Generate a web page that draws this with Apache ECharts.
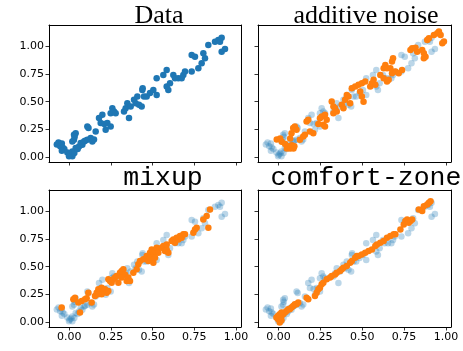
<!DOCTYPE html>
<html>
<head>
<meta charset="utf-8">
<script src="https://cdn.jsdelivr.net/npm/echarts@6/dist/echarts.min.js"></script>
<style>
  html, body { margin: 0; padding: 0; background: #fff; }
  #chart { width: 463px; height: 351px; }
</style>
</head>
<body>
<div id="chart"></div>
<script>
// original data (blue)
const dataPoints = [
  [-0.075,0.115],[-0.065,0.135],[-0.055,0.1],[-0.045,0.125],[-0.04,0.09],[-0.03,0.075],[-0.045,0.06],
  [-0.012,0.045],[0.002,0.024],[0.018,0.01],[-0.002,0.01],[0.01,0.035],[0.018,0.054],[0.03,0.04],
  [0.028,0.158],[0.018,0.143],[0.028,0.203],[0.038,0.218],[0.032,0.185],
  [0.038,0.084],[0.058,0.098],[0.068,0.129],[0.078,0.114],[0.088,0.143],[0.05,0.075],[0.095,0.15],
  [0.108,0.278],[0.115,0.265],[0.108,0.158],[0.128,0.174],[0.138,0.143],[0.158,0.233],[0.148,0.16],
  [0.178,0.353],[0.188,0.308],[0.198,0.382],[0.218,0.248],[0.228,0.308],[0.248,0.278],[0.248,0.397],
  [0.258,0.442],[0.268,0.412],[0.278,0.397],[0.21,0.3],
  [0.328,0.412],[0.338,0.442],[0.358,0.353],[0.348,0.487],[0.368,0.457],[0.388,0.517],[0.398,0.487],
  [0.408,0.546],[0.418,0.472],[0.438,0.606],[0.448,0.546],[0.434,0.457],[0.44,0.62],[0.464,0.546],
  [0.484,0.577],[0.504,0.606],[0.524,0.561],[0.524,0.711],[0.564,0.74],[0.584,0.636],[0.584,0.785],
  [0.594,0.606],[0.604,0.666],[0.624,0.74],[0.634,0.711],[0.654,0.711],[0.674,0.711],[0.684,0.74],
  [0.694,0.77],[0.734,0.77],[0.734,0.919],[0.754,0.904],[0.774,0.8],[0.794,0.845],[0.814,0.89],
  [0.804,0.935],[0.834,1.009],[0.874,1.038],[0.894,1.054],[0.914,1.074],[0.904,1.038],[0.914,0.949],
  [0.934,0.973]
];

// augmented points (orange)
const additivePoints = [
  [-0.01,0.16],[0.01,0.17],[0.02,0.14],[0.04,0.12],[0.05,0.08],[0.06,0.1],[0.07,0.08],[0.08,0.11],
  [0.09,0.08],[0.095,0.1],[0.07,0.17],[0.078,0.218],[0.088,0.263],[0.098,0.278],[0.108,0.248],
  [0.128,0.158],[0.148,0.188],[0.158,0.203],[0.168,0.322],[0.178,0.337],[0.188,0.233],[0.208,0.218],
  [0.238,0.3],[0.248,0.352],[0.258,0.367],[0.278,0.382],[0.288,0.337],[0.268,0.293],[0.278,0.278],
  [0.318,0.502],[0.328,0.457],[0.338,0.442],[0.328,0.397],[0.348,0.412],
  [0.378,0.472],[0.388,0.442],[0.398,0.517],[0.408,0.561],[0.418,0.546],[0.428,0.487],
  [0.438,0.621],[0.458,0.636],[0.478,0.651],[0.488,0.591],[0.498,0.546],[0.508,0.5],
  [0.498,0.666],[0.518,0.681],[0.548,0.636],[0.558,0.666],[0.578,0.651],[0.568,0.696],
  [0.608,0.74],[0.628,0.8],[0.638,0.83],[0.648,0.8],[0.628,0.711],[0.648,0.681],[0.658,0.696],
  [0.678,0.755],[0.698,0.77],[0.718,0.755],[0.738,0.785],[0.668,0.8],[0.678,0.86],[0.684,0.89],
  [0.788,0.964],[0.798,0.979],[0.818,0.985],[0.828,0.949],[0.858,0.964],[0.868,0.934],[0.878,0.904],
  [0.868,0.889],[0.888,1.054],[0.898,1.069],[0.928,1.099],[0.948,1.114],[0.958,1.129],[0.968,1.099],
  [0.978,1.024],[0.988,1.039]
];

const mixupPoints = [
  [-0.046,0.133],[0.024,0.208],[0.034,0.222],[0.054,0.178],[0.074,0.193],[0.094,0.208],[0.104,0.216],
  [0.064,0.088],[0.134,0.178],[0.114,0.267],[0.154,0.237],[0.164,0.267],[0.174,0.297],[0.184,0.282],
  [0.194,0.312],[0.204,0.282],[0.214,0.297],[0.224,0.267],[0.234,0.282],[0.194,0.252],[0.174,0.252],
  [0.234,0.387],[0.244,0.372],[0.254,0.357],[0.264,0.387],[0.274,0.402],[0.284,0.417],[0.304,0.446],
  [0.314,0.461],[0.324,0.476],[0.334,0.431],[0.314,0.402],[0.344,0.372],[0.354,0.402],[0.364,0.372],
  [0.294,0.357],[0.384,0.446],[0.404,0.476],[0.414,0.521],[0.424,0.551],[0.444,0.566],[0.464,0.596],
  [0.474,0.551],[0.484,0.625],[0.494,0.655],[0.504,0.610],[0.514,0.640],[0.524,0.670],[0.534,0.625],
  [0.504,0.536],[0.484,0.581],[0.514,0.581],[0.554,0.670],[0.564,0.685],[0.574,0.640],[0.584,0.655],
  [0.594,0.625],[0.584,0.700],[0.614,0.730],[0.624,0.745],[0.634,0.715],[0.644,0.760],[0.654,0.745],
  [0.664,0.775],[0.674,0.760],[0.684,0.790],[0.694,0.790],[0.744,0.804],[0.754,0.834],[0.764,0.849],
  [0.804,0.924],[0.824,0.954],[0.834,0.849],[0.844,1.014]
];

const comfortPoints = [
  [-0.012,0.044],[-0.002,0.029],[0.008,0.044],[0.018,0.059],[0.028,0.074],[0.038,0.088],[0.048,0.103],
  [0.058,0.118],[0.068,0.118],[0.078,0.133],[0.088,0.148],[0.098,0.163],[0.108,0.163],[0.118,0.178],
  [-0.002,0.059],[0.008,0.074],[0.018,0.088],[0.018,0.02],[0.008,0.0],
  [0.168,0.222],[0.178,0.208],[0.218,0.237],[0.228,0.267],[0.238,0.297],[0.248,0.312],[0.258,0.342],
  [0.268,0.357],[0.288,0.387],[0.308,0.402],[0.318,0.416],[0.338,0.431],[0.348,0.446],[0.368,0.461],
  [0.378,0.476],[0.388,0.491],[0.408,0.506],[0.428,0.536],[0.438,0.551],[0.458,0.581],[0.468,0.595],
  [0.478,0.595],[0.498,0.610],[0.518,0.625],[0.538,0.640],[0.558,0.655],[0.578,0.685],[0.588,0.700],
  [0.608,0.715],[0.628,0.730],[0.648,0.760],[0.668,0.775],[0.688,0.790],[0.698,0.790],
  [0.728,0.834],[0.748,0.879],[0.758,0.909],[0.768,0.924],[0.778,0.894],[0.788,0.909],[0.798,0.924],
  [0.838,1.014],[0.858,0.999],[0.868,1.043],[0.888,1.058],[0.898,1.073],[0.908,1.088]
];

const tickValues = [0, 0.25, 0.5, 0.75, 1];
const titles = ['Data', 'additive noise', 'mixup', 'comfort-zone'];
const augmented = [null, additivePoints, mixupPoints, comfortPoints];

const BLUE = '#1f77b4';
const ORANGE = '#ff7f0e';
const X_RANGE = [-0.122, 1.03];
const Y_RANGE = [-0.041, 1.188];

const grids = [
  { left: 49, top: 25, width: 192, height: 137 },
  { left: 258, top: 25, width: 193, height: 137 },
  { left: 49, top: 190, width: 192, height: 137 },
  { left: 258, top: 190, width: 193, height: 137 }
];

const chart = echarts.init(document.getElementById('chart'), null, { renderer: 'canvas' });

const spine = { show: true, onZero: false, lineStyle: { color: '#000', width: 1 } };
const tickStyle = { show: true, length: 3.5, lineStyle: { color: '#000', width: 0.8 }, customValues: tickValues };
const labelStyle = {
  color: '#000', fontSize: 11, fontFamily: 'DejaVu Sans', margin: 5,
  formatter: v => v.toFixed(2), customValues: tickValues
};
const titleStyle = (family, size) => ({ fontFamily: family, fontSize: size, fontWeight: 'normal', color: '#000' });

const xAxes = [];
const yAxes = [];
grids.forEach((g, i) => {
  // bottom / left spines with ticks
  xAxes.push({
    type: 'value', gridIndex: i, position: 'bottom', min: X_RANGE[0], max: X_RANGE[1],
    axisLine: spine, splitLine: { show: false }, axisTick: tickStyle,
    axisLabel: Object.assign({}, labelStyle, { show: i >= 2 })
  });
  yAxes.push({
    type: 'value', gridIndex: i, position: 'left', min: Y_RANGE[0], max: Y_RANGE[1],
    axisLine: spine, splitLine: { show: false }, axisTick: tickStyle,
    axisLabel: Object.assign({}, labelStyle, { show: i % 2 === 0 })
  });
});
grids.forEach((g, i) => {
  // top / right spines only
  xAxes.push({
    type: 'value', gridIndex: i, position: 'top', min: X_RANGE[0], max: X_RANGE[1],
    axisLine: spine, splitLine: { show: false }, axisTick: { show: false }, axisLabel: { show: false }
  });
  yAxes.push({
    type: 'value', gridIndex: i, position: 'right', min: Y_RANGE[0], max: Y_RANGE[1],
    axisLine: spine, splitLine: { show: false }, axisTick: { show: false }, axisLabel: { show: false }
  });
});

const option = {
  animation: false,
  title: [
    { text: titles[0], left: 159, top: 3, padding: 0, textAlign: 'center', textStyle: titleStyle('Liberation Serif', 26) },
    { text: titles[1], left: 366, top: 3, padding: 0, textAlign: 'center', textStyle: titleStyle('Liberation Serif', 26) },
    { text: titles[2], left: 163, top: 164, padding: 0, textAlign: 'center', textStyle: titleStyle('Liberation Mono', 26.5) },
    { text: titles[3], left: 366, top: 164, padding: 0, textAlign: 'center', textStyle: titleStyle('Liberation Mono', 26.5) }
  ],
  grid: grids,
  xAxis: xAxes,
  yAxis: yAxes,
  series: []
};

for (let i = 0; i < 4; i++) {
  option.series.push({
    type: 'scatter', xAxisIndex: i, yAxisIndex: i,
    data: dataPoints, symbolSize: 6.5,
    itemStyle: { color: BLUE, opacity: i === 0 ? 1 : 0.3 },
    silent: true
  });
  if (augmented[i]) {
    option.series.push({
      type: 'scatter', xAxisIndex: i, yAxisIndex: i,
      data: augmented[i], symbolSize: 6.5,
      itemStyle: { color: ORANGE, opacity: 1 },
      silent: true
    });
  }
}

chart.setOption(option);
</script>
</body>
</html>
